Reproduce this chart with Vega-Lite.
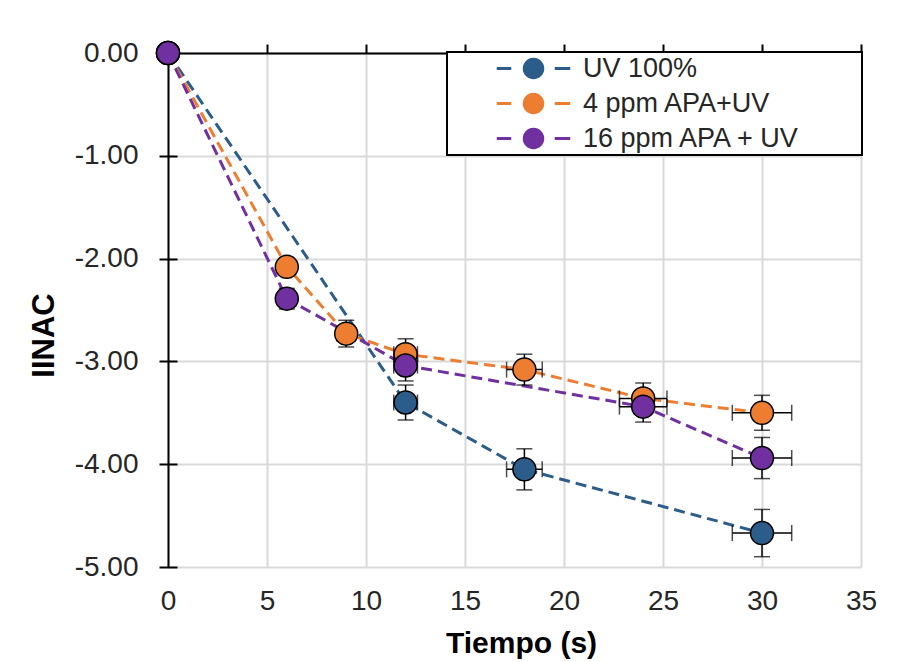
{
  "$schema": "https://vega.github.io/schema/vega-lite/v6.json",
  "width": 693,
  "height": 514,
  "autosize": {"type": "none"},
  "padding": {"left": 168, "top": 53, "right": 56, "bottom": 95},
  "background": "white",
  "config": {
    "view": {"stroke": null},
    "font": "Liberation Sans"
  },
  "data": {
    "values": [
      {"serie": "UV 100%", "t": 0, "v": 0, "ev": 0, "et": 0},
      {"serie": "UV 100%", "t": 12, "v": -3.40, "ev": 0.17, "et": 0.6},
      {"serie": "UV 100%", "t": 18, "v": -4.05, "ev": 0.20, "et": 0.9},
      {"serie": "UV 100%", "t": 30, "v": -4.67, "ev": 0.23, "et": 1.5},
      {"serie": "4 ppm APA+UV", "t": 0, "v": 0, "ev": 0, "et": 0},
      {"serie": "4 ppm APA+UV", "t": 6, "v": -2.08, "ev": 0.05, "et": 0.3},
      {"serie": "4 ppm APA+UV", "t": 9, "v": -2.73, "ev": 0.13, "et": 0.45},
      {"serie": "4 ppm APA+UV", "t": 12, "v": -2.93, "ev": 0.15, "et": 0.6},
      {"serie": "4 ppm APA+UV", "t": 18, "v": -3.08, "ev": 0.15, "et": 0.9},
      {"serie": "4 ppm APA+UV", "t": 24, "v": -3.36, "ev": 0.15, "et": 1.2},
      {"serie": "4 ppm APA+UV", "t": 30, "v": -3.50, "ev": 0.17, "et": 1.5},
      {"serie": "16 ppm APA + UV", "t": 0, "v": 0, "ev": 0, "et": 0},
      {"serie": "16 ppm APA + UV", "t": 6, "v": -2.39, "ev": 0.10, "et": 0.3},
      {"serie": "16 ppm APA + UV", "t": 12, "v": -3.04, "ev": 0.15, "et": 0.6},
      {"serie": "16 ppm APA + UV", "t": 24, "v": -3.44, "ev": 0.15, "et": 1.2},
      {"serie": "16 ppm APA + UV", "t": 30, "v": -3.94, "ev": 0.20, "et": 1.5}
    ]
  },
  "resolve": {"axis": {"x": "independent", "y": "independent"}},
  "layer": [
    {
      "mark": {"type": "line", "strokeDash": [11, 6], "strokeWidth": 3},
      "encoding": {
        "x": {"field": "t", "type": "quantitative",
          "scale": {"domain": [0, 35], "nice": false},
          "axis": {"orient": "top", "values": [0, 5, 10, 15, 20, 25, 30, 35], "labels": false, "grid": false,
            "domain": true, "domainColor": "black", "domainWidth": 2,
            "ticks": true, "tickColor": "black", "tickWidth": 2, "tickSize": 9, "title": null}},
        "y": {"field": "v", "type": "quantitative",
          "scale": {"domain": [-5, 0], "nice": false},
          "axis": {"orient": "left", "values": [-5, -4, -3, -2, -1, 0], "labels": false,
            "grid": true, "gridColor": "#D9D9D9", "gridWidth": 2,
            "domain": true, "domainColor": "black", "domainWidth": 2, "ticks": false, "title": null}},
        "stroke": {"field": "serie", "type": "nominal",
          "scale": {"domain": ["UV 100%", "4 ppm APA+UV", "16 ppm APA + UV"], "range": ["#2B5C8A", "#ED7D31", "#7030A0"]},
          "legend": {"orient": "none", "legendX": 279, "legendY": -1, "title": null, "direction": "vertical",
            "symbolType": "M-3.6,-0.08H-2.3V0.08H-3.6Z M2.2,-0.08H3.6V0.08H2.2Z M-1,0A1,1 0 1,1 1,0A1,1 0 1,1 -1,0Z",
            "symbolSize": 400, "symbolStrokeWidth": 1.5,
            "labelFont": "Liberation Sans", "labelFontSize": 27, "labelColor": "#262626", "labelLimit": 600,
            "labelExpr": "datum.label + '\u00a0\u00a0\u00a0\u00a0\u00a0\u00a0\u00a0\u2009\u200b'",
            "padding": 3, "rowPadding": 7, "symbolOffset": 70, "labelOffset": 36,
            "strokeColor": "black", "fillColor": "white",
            "encode": {
              "legend": {"update": {"strokeWidth": {"value": 2}}},
              "symbols": {"update": {"fill": {"scale": "stroke", "field": "value"}, "fillOpacity": {"value": 1}, "opacity": {"value": 1}}}
            }}}
      }
    },
    {
      "mark": {"type": "errorbar", "rule": {"color": "black", "strokeWidth": 1.5},
        "ticks": {"color": "black", "size": 16, "thickness": 1.5}},
      "encoding": {
        "x": {"field": "t", "type": "quantitative", "scale": {"domain": [0, 35], "nice": false}, "axis": null},
        "y": {"field": "v", "type": "quantitative", "scale": {"domain": [-5, 0], "nice": false}, "axis": null},
        "yError": {"field": "ev"}
      }
    },
    {
      "mark": {"type": "errorbar", "rule": {"color": "black", "strokeWidth": 1.5},
        "ticks": {"color": "black", "size": 16, "thickness": 1.5}},
      "encoding": {
        "x": {"field": "t", "type": "quantitative", "scale": {"domain": [0, 35], "nice": false}, "axis": null},
        "xError": {"field": "et"},
        "y": {"field": "v", "type": "quantitative", "scale": {"domain": [-5, 0], "nice": false}, "axis": null}
      }
    },
    {
      "mark": {"type": "point", "filled": true, "shape": "circle", "size": 529, "stroke": "black", "strokeWidth": 1.5, "opacity": 1},
      "encoding": {
        "x": {"field": "t", "type": "quantitative",
          "scale": {"domain": [0, 35], "nice": false},
          "axis": {"orient": "bottom", "values": [0, 5, 10, 15, 20, 25, 30, 35], "format": "d",
            "domain": false, "ticks": false, "tickSize": 0, "grid": true, "gridColor": "#D9D9D9", "gridWidth": 2,
            "labelFont": "Liberation Sans", "labelFontSize": 28, "labelColor": "#262626", "labelPadding": 20,
            "labelFlush": false, "labelOverlap": false,
            "title": "Tiempo (s)", "titleFont": "Liberation Sans", "titleFontSize": 30, "titleFontWeight": "bold",
            "titleColor": "black", "titleX": 353, "titleY": 85, "titleBaseline": "alphabetic", "titleAlign": "center"}},
        "y": {"field": "v", "type": "quantitative",
          "scale": {"domain": [-5, 0], "nice": false},
          "axis": {"orient": "left", "offset": -9, "values": [-5, -4, -3, -2, -1, 0],
            "labelExpr": "replace(format(datum.value, '.2f'), '\u2212', '-')",
            "domain": false,
            "ticks": true, "tickColor": "black", "tickWidth": 2, "tickSize": 18,
            "grid": false,
            "labelFont": "Liberation Sans", "labelFontSize": 28, "labelColor": "#262626", "labelPadding": 21,
            "labelFlush": false, "labelOverlap": false,
            "title": "IINAC", "titleFont": "Liberation Sans", "titleFontSize": 31, "titleFontWeight": "bold",
            "titleColor": "black", "titleX": -133, "titleY": 282, "titleBaseline": "middle", "titleAlign": "center", "titleAngle": 270}},
        "fill": {"field": "serie", "type": "nominal",
          "scale": {"domain": ["UV 100%", "4 ppm APA+UV", "16 ppm APA + UV"], "range": ["#2B5C8A", "#ED7D31", "#7030A0"]},
          "legend": null}
      }
    }
  ]
}
